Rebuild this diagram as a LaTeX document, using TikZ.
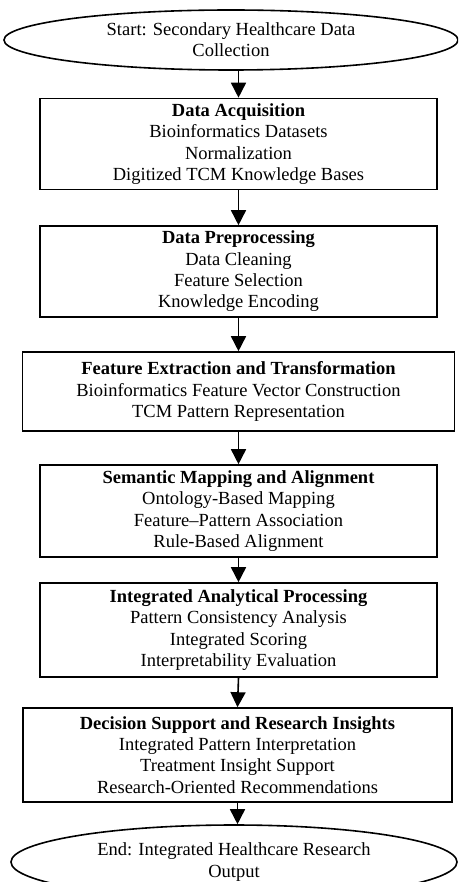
\documentclass[tikz,border=0pt]{standalone}
\usepackage{fontspec}
\setmainfont{Liberation Serif}
\usetikzlibrary{shapes.geometric,arrows.meta}
\tikzset{
  stepbox/.style={draw=black, line width=1.6pt, align=center, inner sep=2pt,
    font=\fontsize{18.5}{21.3}\selectfont, minimum width=397pt},
  term/.style={ellipse, draw=black, line width=1.6pt, align=center, inner sep=0pt,
    font=\fontsize{18.5}{21.3}\selectfont},
  arr/.style={line width=1.6pt, -{Triangle[width=15pt,length=15pt]}}
}
\begin{document}
\begin{tikzpicture}[x=1pt,y=-1pt]
\clip (0,0) rectangle (458,882);
\fill[white] (0,0) rectangle (458,882);
\node[term, minimum width=454pt, minimum height=60pt] (start) at (231,40)
  {Start: Secondary Healthcare Data\\Collection};
\node[stepbox, minimum height=91pt] (b1) at (238.5,144)
  {\textbf{Data Acquisition}\\Bioinformatics Datasets\\Normalization\\Digitized TCM Knowledge Bases};
\node[stepbox, minimum height=91pt] (b2) at (238.5,271.5)
  {\textbf{Data Preprocessing}\\Data Cleaning\\Feature Selection\\Knowledge Encoding};
\node[stepbox, minimum width=432pt, minimum height=79pt] (b3) at (238.5,391.5)
  {\textbf{Feature Extraction and Transformation}\\Bioinformatics Feature Vector Construction\\TCM Pattern Representation};
\node[stepbox, minimum height=92pt] (b4) at (238.5,511)
  {\textbf{Semantic Mapping and Alignment}\\Ontology-Based Mapping\\Feature--Pattern Association\\Rule-Based Alignment};
\node[stepbox, minimum height=94pt] (b5) at (238.5,630)
  {\textbf{Integrated Analytical Processing}\\Pattern Consistency Analysis\\Integrated Scoring\\Interpretability Evaluation};
\node[stepbox, minimum width=429pt, minimum height=94pt] (b6) at (237.5,755)
  {\textbf{Decision Support and Research Insights}\\Integrated Pattern Interpretation\\Treatment Insight Support\\Research-Oriented Recommendations};
\node[term, minimum width=446pt, minimum height=74pt] (end) at (234,862)
  {End: Integrated Healthcare Research\\Output};
\draw[arr] (start.south -| b1.north) -- (b1.north);
\draw[arr] (b1.south) -- (b2.north);
\draw[arr] (b2.south) -- (b3.north);
\draw[arr] (b3.south) -- (b4.north);
\draw[arr] (b4.south) -- (b5.north);
\draw[arr] (b5.south) -- (b6.north);
\draw[arr] (b6.south) -- (end.north -| b6.south);
\end{tikzpicture}
\end{document}
